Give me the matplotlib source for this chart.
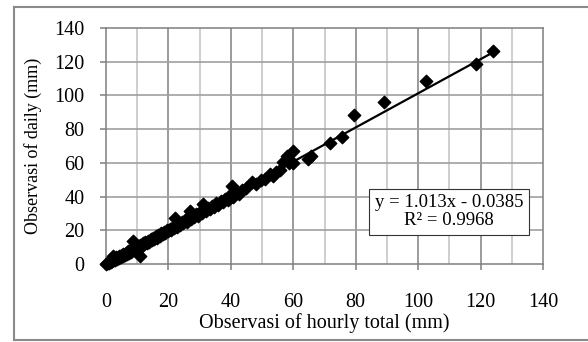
import matplotlib.pyplot as plt
from matplotlib.lines import Line2D

plt.rcParams['font.family'] = ['Liberation Serif', 'DejaVu Serif']

# observasi hourly total (mm) vs daily (mm)
hourly = [0.0, 0.2, 0.5, 0.8, 1.0, 1.2, 1.5, 1.8, 2.0, 2.3, 2.5, 2.8, 3.0, 3.3, 3.6,
          4.0, 4.2, 4.5, 4.8, 5.0, 5.3, 5.6, 6.0, 6.3, 6.7, 7.0, 7.3, 7.7, 8.0, 8.7,
          8.4, 9.0, 9.3, 9.8, 10.2, 10.9, 10.5, 11.0, 11.4, 11.8, 12.2, 12.6, 13.0, 13.4,
          13.8, 14.3, 14.7, 15.1, 15.5, 16.0, 16.4, 16.8, 17.2, 17.7, 18.1, 18.6, 19.0,
          19.5, 20.0, 20.4, 20.9, 21.4, 21.8, 22.0, 22.3, 22.8, 23.3, 23.8, 24.3, 24.8,
          25.3, 25.8, 26.3, 26.9, 27.2, 27.8, 28.3, 28.9, 29.5, 30.1, 30.7, 31.2, 31.4,
          32.0, 32.7, 33.3, 34.0, 34.7, 35.3, 36.0, 36.7, 37.4, 38.2, 39.0, 39.7, 40.3,
          40.6, 41.5, 42.5, 43.5, 45.0, 46.7, 48.0, 49.7, 51.0, 52.6, 53.6, 54.5, 55.8,
          56.8, 57.9, 58.7, 59.8, 60.0, 64.8, 65.7, 71.8, 75.7, 79.5, 89.1, 102.5,
          118.5, 124.1]
daily = [0.0, 0.5, 0.3, 1.2, 0.6, 1.8, 1.0, 2.3, 1.5, 4.8, 2.2, 3.0, 2.4, 3.9, 3.1,
         4.5, 3.6, 5.0, 4.1, 5.6, 4.7, 6.0, 5.2, 6.8, 6.1, 7.5, 6.5, 8.1, 7.2, 13.5,
         8.8, 8.3, 9.9, 9.1, 10.6, 4.5, 9.8, 11.5, 10.7, 12.3, 11.6, 13.1, 12.4, 13.9,
         13.2, 14.8, 14.0, 15.6, 14.9, 16.5, 15.7, 17.3, 16.6, 18.2, 17.5, 19.1, 18.4,
         20.0, 19.5, 21.0, 20.2, 22.0, 21.3, 27.5, 22.8, 22.1, 23.9, 23.2, 24.8, 24.1,
         25.9, 25.0, 26.8, 31.5, 26.5, 28.4, 27.6, 29.5, 28.7, 30.8, 30.0, 35.5, 31.9,
         31.3, 33.3, 32.6, 34.6, 33.9, 36.0, 35.2, 37.3, 36.6, 38.8, 38.1, 41.0, 46.0,
         40.0, 42.1, 41.8, 44.0, 45.3, 48.5, 47.6, 50.0, 50.6, 53.4, 52.0, 54.7, 56.0,
         60.3, 64.3, 59.7, 66.8, 60.2, 62.3, 63.8, 71.8, 75.4, 88.3, 96.2, 108.5,
         118.5, 126.4]

slope = 1.013
intercept = -0.0385
eq_text = 'y = 1.013x - 0.0385\nR² = 0.9968'

fig = plt.figure(figsize=(5.88, 3.42), dpi=100)
ax = fig.add_axes([0.1803, 0.2281, 0.7432, 0.6900])

# grid like excel: minor verticals at 10, majors at 20
for xv in range(10, 140, 20):
    ax.axvline(xv, color='#c6c6c6', lw=1.2, zorder=0)
for xv in range(20, 140, 20):
    ax.axvline(xv, color='#8a8a8a', lw=1.2, zorder=0)
for yv in range(20, 140, 20):
    ax.axhline(yv, color='#a0a0a0', lw=1.2, zorder=0)

ax.scatter(hourly, daily, marker='D', s=40, color='black', zorder=3, clip_on=False)
xs = [min(hourly), max(hourly)]
ax.plot(xs, [slope * v + intercept for v in xs], color='black', lw=1.6, zorder=2)

ax.set_xlim(0, 140)
ax.set_ylim(0, 140)
ax.set_xticks(range(0, 141, 20))
ax.set_yticks(range(0, 141, 20))
for s in ax.spines.values():
    s.set_color('#7f7f7f')
    s.set_linewidth(1.1)
ax.tick_params(axis='x', direction='out', length=4, width=1.1, color='#7f7f7f',
               labelsize=14.5, pad=17)
ax.tick_params(axis='y', direction='out', length=4.5, width=1.1, color='#7f7f7f',
               labelsize=14.5, pad=11)

ax.set_xlabel('Observasi of hourly total (mm)', fontsize=14.5)
ax.set_ylabel('Observasi of daily (mm)', fontsize=13)
ax.xaxis.set_label_coords(0.5, -0.25)
ax.xaxis.label.set_va('center')
ax.yaxis.set_label_coords(-0.167, 0.5)
ax.yaxis.label.set_va('center')

ax.text(110, 31, eq_text, ha='center', va='center', fontsize=13.5, linespacing=1.05,
        bbox=dict(boxstyle='square,pad=0.3', fc='white', ec='#333333', lw=0.8), zorder=4)

# outer chart border (open on the right, as in the picture)
bc = '#8a8a8a'
fig.add_artist(Line2D([14 / 588, 1.0], [1 - 7 / 342, 1 - 7 / 342], color=bc, lw=1.5))
fig.add_artist(Line2D([14 / 588, 1.0], [1 - 340 / 342, 1 - 340 / 342], color=bc, lw=1.5))
fig.add_artist(Line2D([14 / 588, 14 / 588], [1 - 7 / 342, 1 - 340 / 342], color=bc, lw=1.5))

fig.savefig('out.png', dpi=100)
